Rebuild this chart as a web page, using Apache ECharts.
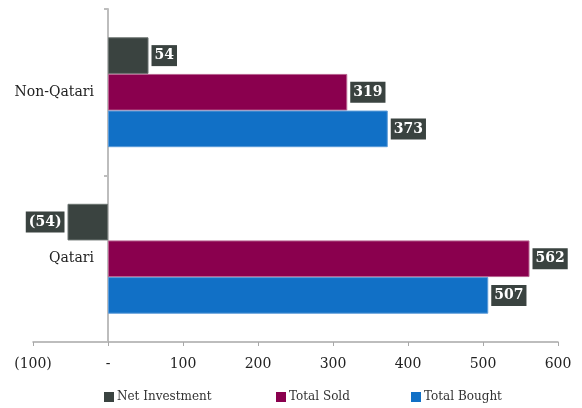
<!DOCTYPE html>
<html>
<head>
<meta charset="utf-8">
<script src="https://cdn.jsdelivr.net/npm/echarts@6/dist/echarts.min.js"></script>
<style>
html,body{margin:0;padding:0;background:#fff;}
#main{width:582px;height:408px;}
</style>
</head>
<body>
<div id="main"></div>
<script>
const categories = ['Qatari', 'Non-Qatari'];
const netInvestment = [-54, 54];
const totalSold = [562, 319];
const totalBought = [507, 373];
const seriesNames = ['Net Investment', 'Total Sold', 'Total Bought'];
const xTicks = [-100, 0, 100, 200, 300, 400, 500, 600];

const colors = { net: '#3a4340', sold: '#8a004e', bought: '#1170c6' };
const FONT = 'DejaVu Serif';

function fmt(v) { return v < 0 ? '(' + (-v) + ')' : (v === 0 ? '-' : String(v)); }

const labelBase = {
  show: true,
  formatter: p => fmt(p.value),
  color: '#fff',
  fontFamily: FONT,
  fontWeight: 'bold',
  fontSize: 14,
  backgroundColor: '#3a4340',
  padding: [4, 3, 3, 3],
  distance: 3
};

function mkData(arr) {
  return arr.map(v => ({ value: v, label: { position: v < 0 ? 'left' : 'right' } }));
}

function mkSeries(name, arr, color, border) {
  return {
    name: name,
    type: 'bar',
    data: mkData(arr),
    barGap: 0,
    barCategoryGap: '34%',
    itemStyle: { color: color, borderColor: border, borderWidth: 1 },
    label: labelBase,
    emphasis: { disabled: true },
    animation: false
  };
}

function mkLegend(name, left) {
  return {
    data: [name], left: left, top: 386, itemWidth: 10, itemHeight: 10, icon: 'rect', itemGap: 0,
    itemStyle: { borderWidth: 0 },
    textStyle: { color: '#333', fontFamily: FONT, fontSize: 12, padding: [0, 0, 0, -2] }
  };
}

const GRID_LEFT = 33, GRID_RIGHT = 24;
const plotW = 582 - GRID_LEFT - GRID_RIGHT;
const zeroOffset = plotW * (0 - xTicks[0]) / (xTicks[xTicks.length - 1] - xTicks[0]);

const chart = echarts.init(document.getElementById('main'), null, { renderer: 'canvas' });
chart.setOption({
  animation: false,
  grid: { left: GRID_LEFT, right: GRID_RIGHT, top: 9, bottom: 66, containLabel: false, outerBoundsMode: 'none' },
  xAxis: {
    type: 'value',
    min: xTicks[0],
    max: xTicks[xTicks.length - 1],
    interval: 100,
    splitLine: { show: false },
    axisLine: { show: true, lineStyle: { color: '#a8a8a8', width: 1.5 } },
    axisTick: { show: true, length: 4, lineStyle: { color: '#a8a8a8' } },
    axisLabel: { formatter: v => fmt(v), color: '#222', fontFamily: FONT, fontSize: 14, margin: 15 }
  },
  yAxis: {
    type: 'category',
    data: categories,
    position: 'left',
    offset: -zeroOffset,
    axisLine: { show: true, onZero: false, lineStyle: { color: '#bdbdbd', width: 2 } },
    axisTick: { show: true, length: 4, lineStyle: { color: '#bdbdbd', width: 2 } },
    axisLabel: { color: '#222', fontFamily: FONT, fontSize: 14, margin: 14 }
  },
  legend: [
    mkLegend(seriesNames[0], 99),
    mkLegend(seriesNames[1], 271),
    mkLegend(seriesNames[2], 406)
  ],
  series: [
    mkSeries(seriesNames[0], netInvestment, colors.net, '#6b7370'),
    mkSeries(seriesNames[1], totalSold, colors.sold, '#b8628f'),
    mkSeries(seriesNames[2], totalBought, colors.bought, '#5b9ad8')
  ]
});
</script>
</body>
</html>
